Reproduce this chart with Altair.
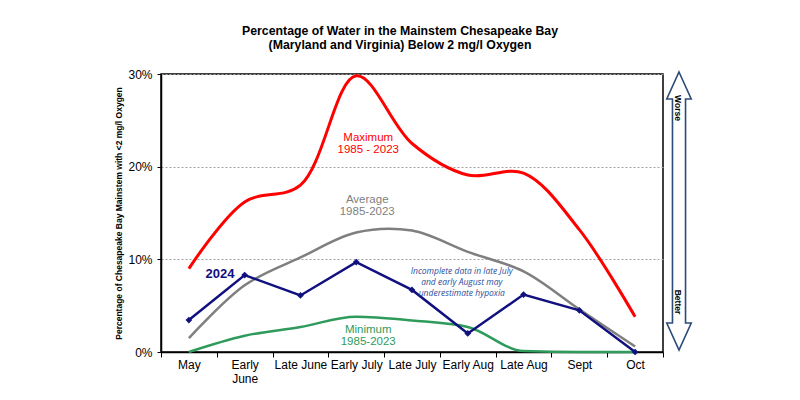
import altair as alt
import pandas as pd

categories = ["May", "Early June", "Late June", "Early July", "Late July",
              "Early Aug", "Late Aug", "Sept", "Oct"]
max_vals = [9.0, 16.2, 18.0, 29.8, 22.5, 19.1, 19.3, 13.2, 3.8]
avg_vals = [1.5, 7.2, 10.2, 12.9, 13.1, 10.8, 8.7, 4.6, 0.6]
min_vals = [0.0, 1.75, 2.7, 3.8, 3.4, 2.7, 0.1, 0.0, 0.0]
vals_2024 = [3.45, 8.3, 6.1, 9.7, 6.7, 2.0, 6.2, 4.5, 0.0]
y_ticks = [0, 10, 20, 30]

title_lines = ["Percentage of Water in the Mainstem Chesapeake Bay",
               "(Maryland and Virginia) Below 2 mg/l Oxygen"]
y_title = "Percentage of Chesapeake Bay Mainstem with <2 mg/l Oxygen"

ann_text = ["Maximum\n1985 - 2023", "Average\n1985-2023", "Minimum\n1985-2023", "2024",
            "Incomplete data in late July\nand early August may\nunderestimate  hypoxia"]
ann_cat = ["Early July", "Early July", "Early July", "May", "Early Aug"]
ann_val = [23.05, 16.4, 2.35, 8.42, 8.75]

FONT = "Liberation Sans"
RED, GRAY, GREEN, NAVY = "#ff0000", "#7f7f7f", "#2e9b5c", "#10107e"

def series_df(vals):
    return pd.DataFrame({"cat": categories, "val": vals})

x_enc = alt.X(
    "cat:N", sort=categories, bandPosition=0.5,
    scale=alt.Scale(type="band", domain=categories, paddingInner=0, paddingOuter=0),
    axis=alt.Axis(title=None, tickBand="extent", labelAngle=0,
                  labelExpr="datum.value == 'Early June' ? ['Early', 'June'] : datum.label",
                  labelFont=FONT, labelFontSize=12, labelColor="#000", labelLineHeight=14,
                  tickColor="#000", tickSize=5, tickWidth=1, labelPadding=2,
                  domainColor="#000", domainWidth=1.5, grid=False),
)
y_enc = alt.Y(
    "val:Q", scale=alt.Scale(domain=[0, 30], nice=False, zero=True),
    axis=alt.Axis(values=y_ticks, labelExpr="datum.value + '%'",
                  title=y_title, titleFont=FONT, titleFontSize=8.5, titleFontWeight="bold",
                  titleColor="#000", titleX=-43, titleY=139, titleAngle=270,
                  titleAlign="center", titleBaseline="middle",
                  grid=True, gridDash=[2, 2], gridColor="#a0a0a0", gridWidth=1,
                  tickSize=4, tickColor="#000", labelPadding=5,
                  labelFont=FONT, labelFontSize=12, labelColor="#000",
                  domainColor="#000", domainWidth=1.5),
)

def curve(vals, color, width, interp):
    return alt.Chart(series_df(vals)).mark_line(
        color=color, strokeWidth=width, interpolate=interp
    ).encode(x=x_enc, y=y_enc)

red = curve(max_vals, RED, 3, "catmull-rom")
gray = curve(avg_vals, GRAY, 2.5, "catmull-rom")
green = curve(min_vals, GREEN, 2.5, "monotone")
line24 = alt.Chart(series_df(vals_2024)).mark_line(
    color=NAVY, strokeWidth=2.5,
    point=alt.OverlayMarkDef(shape="diamond", filled=True, color=NAVY, size=45),
).encode(x=x_enc, y=y_enc)

ann_df = pd.DataFrame({"cat": ann_cat, "val": ann_val, "text": ann_text})

def ann(i, color, size, dx, weight="normal", style="normal", lh=12, font=FONT):
    return alt.Chart(ann_df.iloc[[i]]).mark_text(
        color=color, fontSize=size, dx=dx, font=font, fontWeight=weight, fontStyle=style,
        lineBreak="\n", lineHeight=lh, align="center", baseline="middle",
    ).encode(x=x_enc, y=y_enc, text="text:N")

t_max = ann(0, RED, 11.5, 12)
t_avg = ann(1, GRAY, 11.5, 11)
t_min = ann(2, GREEN, 11.5, 12)
t_24 = ann(3, NAVY, 13, 31, weight="bold")
t_note = ann(4, "#2a4d9b", 8.5, -6, style="italic", lh=11, font="Open Sans")

# Worse / Better double arrow at the right of the plot
arrow_path = ("M0,-1 L0.088,-0.806 L0.047,-0.806 L0.047,0.806 L0.088,0.806 L0,1 "
              "L-0.088,0.806 L-0.047,0.806 L-0.047,-0.806 L-0.088,-0.806 Z")
arrow = alt.Chart(pd.DataFrame({"a": [0]})).mark_point(
    shape=arrow_path, filled=True, fill="#ffffff", stroke="#2c4a7a", strokeWidth=1.6,
    size=278 * 278, opacity=1,
).encode(x=alt.value(518), y=alt.value(137))

side_df = pd.DataFrame({"label": ["Worse", "Better"], "ypos": [34, 228]})
side = alt.Chart(side_df).mark_text(
    angle=90, font=FONT, fontSize=8.5, fontWeight="bold", color="#000",
    align="center", baseline="middle",
).encode(x=alt.value(517), y=alt.Y("ypos:Q", scale=None), text="label:N")

chart = alt.layer(
    gray, green, red, line24, t_max, t_avg, t_min, t_24, t_note, arrow, side
).properties(
    width=502, height=278,
    autosize=alt.AutoSizeParams(type="none"),
    padding={"left": 153, "top": 66, "right": 129, "bottom": 40},
    title=alt.TitleParams(title_lines, font=FONT, fontSize=12.3, fontWeight="bold",
                          color="#000", anchor="middle", dx=-12, offset=17, lineHeight=14),
    background="#ffffff",
).configure_view(stroke="#000", strokeWidth=1.5)

chart.save("out.html", embed_options={"renderer": "svg", "actions": False})
